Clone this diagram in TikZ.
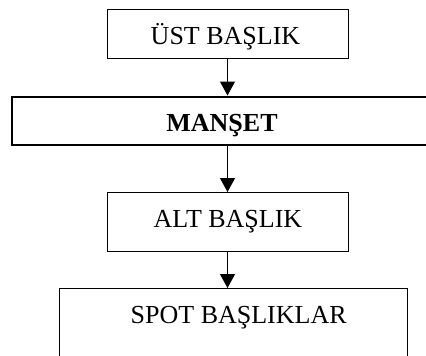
\documentclass[tikz,border=0pt]{standalone}
\usepackage{fontspec}
\setmainfont{Liberation Serif}
\usetikzlibrary{arrows.meta}
\begin{document}
\begin{tikzpicture}[x=1pt,y=-1pt,
  box/.style={draw=black, line width=1.1pt, inner sep=0pt, anchor=north west},
  thickbox/.style={draw=black, line width=2pt, inner sep=0pt, anchor=north west},
  lbl/.style={anchor=base, inner sep=0pt, font=\fontsize{26}{31}\selectfont},
  conn/.style={line width=1.1pt, -{Triangle[width=15pt,length=14pt]}}]
\useasboundingbox (0,0) rectangle (426,356);
\clip (0,0) rectangle (426,356);
\fill[white] (0,0) rectangle (426,356);
% boxes
\node[box, minimum width=241pt, minimum height=49pt] (ust) at (107,9) {};
\node[thickbox, minimum width=430pt, minimum height=48pt] (manset) at (11,95.5) {};
\node[box, minimum width=241pt, minimum height=59pt] (alt) at (107,192) {};
\node[box, minimum width=348pt, minimum height=100pt] (spot) at (59,288) {};
% texts
\node[lbl] (ustt) at (225.5,45) {ÜST BAŞLIK};
\node[lbl] (mansett) at (222,131) {\bfseries MANŞET};
\node[lbl] (altt) at (228,227.3) {ALT BAŞLIK};
\node[lbl] (spott) at (238.7,323.3) {SPOT BAŞLIKLAR};
% connectors
\coordinate (ax) at (227.5,0);
\draw[conn] (ust.south -| ax) -- (manset.north -| ax);
\draw[conn] (manset.south -| ax) -- (alt.north -| ax);
\draw[conn] (alt.south -| ax) -- (spot.north -| ax);
\end{tikzpicture}
\end{document}
